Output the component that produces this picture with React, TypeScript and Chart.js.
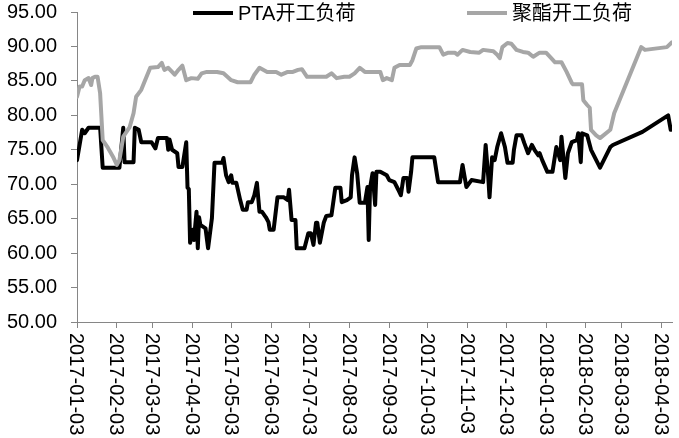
import React, { useEffect, useRef } from "react";
import { Chart, registerables } from "chart.js";

Chart.register(...registerables);

// ---------- data ----------
const seriesNames = ["PTA开工负荷", "聚酯开工负荷"];

const ptaDates = [
  "2017-01-03","2017-01-07","2017-01-09","2017-01-12","2017-01-21","2017-01-23","2017-02-05","2017-02-08",
  "2017-02-09","2017-02-16","2017-02-17","2017-02-20","2017-02-22","2017-03-02","2017-03-05","2017-03-07",
  "2017-03-14","2017-03-15","2017-03-16","2017-03-18","2017-03-22","2017-03-23","2017-03-26","2017-03-29",
  "2017-03-30","2017-03-31","2017-04-01","2017-04-03","2017-04-04","2017-04-06","2017-04-07","2017-04-08",
  "2017-04-09","2017-04-13","2017-04-15","2017-04-18","2017-04-20","2017-04-26","2017-04-27","2017-04-29",
  "2017-05-01","2017-05-03","2017-05-04","2017-05-07","2017-05-10","2017-05-12","2017-05-15","2017-05-16",
  "2017-05-19","2017-05-21","2017-05-23","2017-05-25","2017-05-27","2017-05-30","2017-06-01","2017-06-02",
  "2017-06-05","2017-06-08","2017-06-13","2017-06-16","2017-06-17","2017-06-19","2017-06-22","2017-06-23",
  "2017-06-29","2017-07-02","2017-07-04","2017-07-06","2017-07-08","2017-07-09","2017-07-11","2017-07-14",
  "2017-07-16","2017-07-20","2017-07-23","2017-07-27","2017-07-28","2017-08-01","2017-08-04","2017-08-05",
  "2017-08-07","2017-08-09","2017-08-11","2017-08-15","2017-08-17","2017-08-18","2017-08-19","2017-08-21",
  "2017-08-23","2017-08-24","2017-08-27","2017-09-01","2017-09-03","2017-09-07","2017-09-10","2017-09-12",
  "2017-09-14","2017-09-17","2017-09-18","2017-09-20","2017-09-21","2017-10-08","2017-10-11","2017-10-28",
  "2017-10-30","2017-11-02","2017-11-06","2017-11-15","2017-11-17","2017-11-19","2017-11-20","2017-11-22",
  "2017-11-24","2017-11-26","2017-11-29","2017-12-02","2017-12-04","2017-12-08","2017-12-09","2017-12-11",
  "2017-12-15","2017-12-17","2017-12-20","2017-12-23","2017-12-25","2017-12-28","2017-12-29","2017-12-31",
  "2018-01-04","2018-01-08","2018-01-11","2018-01-14","2018-01-15","2018-01-18","2018-01-20","2018-01-23",
  "2018-01-27","2018-01-28","2018-01-30","2018-01-31","2018-02-04","2018-02-07","2018-02-14","2018-02-22",
  "2018-02-24","2018-03-19","2018-04-08","2018-04-10",
];
const ptaValues = [
  73.5, 77.9, 77.4, 78.2, 78.2, 72.4, 72.4, 78.2,
  73.2, 73.2, 78.2, 77.9, 76.1, 76.1, 75.2, 76.7,
  76.7, 75.0, 76.5, 75.0, 74.5, 72.5, 72.5, 76.1,
  69.5, 69.3, 61.5, 63.4, 61.9, 66.0, 60.7, 65.2,
  64.1, 63.6, 60.7, 65.1, 73.1, 73.1, 73.8, 71.3,
  70.3, 71.3, 70.2, 70.2, 67.7, 66.3, 66.3, 67.4,
  67.4, 68.4, 70.2, 66.0, 66.0, 65.2, 64.5, 63.4,
  63.4, 68.1, 68.1, 67.7, 69.2, 64.8, 64.8, 60.7,
  60.7, 62.9, 62.9, 61.2, 64.4, 64.4, 61.5, 64.4,
  65.4, 65.5, 69.5, 69.5, 67.4, 67.7, 68.1, 71.3,
  73.9, 71.6, 67.3, 67.3, 69.6, 61.9, 69.4, 71.6,
  67.0, 71.8, 71.8, 71.3, 70.6, 70.3, 69.2, 68.4,
  70.9, 70.9, 68.9, 71.8, 73.9, 73.9, 70.3, 70.3,
  72.8, 69.6, 70.6, 70.3, 75.7, 71.1, 68.1, 73.9,
  73.5, 75.4, 77.4, 75.4, 73.1, 73.1, 75.0, 77.1,
  77.1, 76.0, 74.5, 75.7, 75.0, 74.2, 74.5, 73.5,
  71.8, 71.8, 75.4, 73.5, 76.9, 70.9, 74.5, 76.1,
  76.4, 77.4, 73.2, 77.4, 77.1, 75.0, 72.4, 75.4,
  75.7, 77.6, 80.0, 77.9,
];

const pesDates = [
  "2017-01-03","2017-01-05","2017-01-07","2017-01-09","2017-01-12","2017-01-14","2017-01-15","2017-01-17",
  "2017-01-19","2017-01-21","2017-01-23","2017-01-27","2017-01-31","2017-02-03","2017-02-05","2017-02-08",
  "2017-02-13","2017-02-16","2017-02-18","2017-02-22","2017-02-25","2017-03-01","2017-03-07","2017-03-10",
  "2017-03-12","2017-03-15","2017-03-18","2017-03-20","2017-03-23","2017-03-26","2017-03-29","2017-04-02",
  "2017-04-07","2017-04-10","2017-04-14","2017-04-22","2017-04-27","2017-04-30","2017-05-03","2017-05-08",
  "2017-05-18","2017-05-21","2017-05-25","2017-05-31","2017-06-07","2017-06-11","2017-06-16","2017-06-20",
  "2017-06-24","2017-06-27","2017-07-01","2017-07-16","2017-07-20","2017-07-24","2017-07-30","2017-08-03",
  "2017-08-07","2017-08-11","2017-08-15","2017-08-27","2017-08-29","2017-09-01","2017-09-05","2017-09-07",
  "2017-09-11","2017-09-19","2017-09-21","2017-09-24","2017-09-28","2017-10-12","2017-10-15","2017-10-19",
  "2017-10-24","2017-10-26","2017-10-30","2017-11-05","2017-11-12","2017-11-15","2017-11-23","2017-11-26",
  "2017-11-28","2017-11-30","2017-12-04","2017-12-07","2017-12-11","2017-12-16","2017-12-20","2017-12-24",
  "2017-12-29","2018-01-03","2018-01-07","2018-01-10","2018-01-15","2018-01-19","2018-01-23","2018-01-24",
  "2018-01-31","2018-02-01","2018-02-04","2018-02-06","2018-02-07","2018-02-11","2018-02-14","2018-02-22",
  "2018-02-25","2018-03-18","2018-03-21","2018-04-07","2018-04-11",
];
const pesValues = [
  82.7, 84.2, 84.2, 85.1, 85.4, 84.4, 85.4, 85.6,
  85.6, 83.2, 76.4, 75.3, 74.0, 72.8, 73.5, 76.9,
  78.3, 80.3, 82.7, 83.7, 85.1, 86.9, 87.0, 87.6,
  86.6, 86.9, 86.3, 85.9, 86.6, 87.2, 85.1, 85.4,
  85.3, 86.1, 86.3, 86.3, 86.1, 85.6, 85.1, 84.8,
  84.8, 85.9, 86.9, 86.3, 86.3, 85.9, 86.3, 86.3,
  86.6, 86.7, 85.6, 85.6, 86.1, 85.4, 85.6, 85.6,
  86.1, 86.9, 86.3, 86.3, 85.1, 85.4, 85.1, 86.9,
  87.3, 87.3, 88.0, 89.7, 89.9, 89.9, 88.8, 89.1,
  89.1, 88.8, 89.5, 89.2, 89.1, 89.5, 89.3, 88.8,
  88.3, 89.9, 90.5, 90.4, 89.5, 89.2, 89.1, 88.5,
  89.1, 89.1, 88.3, 87.7, 87.7, 86.3, 84.7, 84.5,
  84.5, 82.2, 81.5, 81.1, 77.9, 77.1, 76.7, 77.9,
  80.3, 89.9, 89.5, 89.9, 90.6,
];

const xTickLabels = [
  "2017-01-03","2017-02-03","2017-03-03","2017-04-03","2017-05-03","2017-06-03","2017-07-03","2017-08-03",
  "2017-09-03","2017-10-03","2017-11-03","2017-12-03","2018-01-03","2018-02-03","2018-03-03","2018-04-03",
];
const xStartDate = "2017-01-03";
const xEndDate = "2018-04-11";
const yMin = 50;
const yMax = 95;
const yStep = 5;

// ---------- helpers ----------
const BASE = (() => {
  const [y, m, d] = xStartDate.split("-").map(Number);
  return Date.UTC(y, m - 1, d);
})();
function dayIndex(s: string): number {
  const [y, m, d] = s.split("-").map(Number);
  return Math.round((Date.UTC(y, m - 1, d) - BASE) / 86400000);
}

const FONT_FAMILY = '"Liberation Sans", Arial, "Noto Sans CJK SC", sans-serif';
const AXIS_COLOR = "#868686";
const SERIES_COLORS = ["#000000", "#a6a6a6"];

const xLabelPlugin = {
  id: "xLabels",
  afterDraw(chart: any) {
    const xs = chart.scales.x;
    const ctx = chart.ctx;
    ctx.save();
    ctx.font = `20px ${FONT_FAMILY}`;
    ctx.fillStyle = "#000";
    ctx.textAlign = "left";
    ctx.textBaseline = "middle";
    for (const lab of xTickLabels) {
      const px = xs.getPixelForValue(dayIndex(lab));
      ctx.save();
      ctx.translate(px, xs.top + 11);
      ctx.rotate(Math.PI / 2);
      ctx.fillText(lab, 0, 1);
      ctx.restore();
    }
    ctx.restore();
  },
};

const legendPlugin = {
  id: "customLegend",
  afterDraw(chart: any) {
    const ctx = chart.ctx;
    const starts = [193, 467];
    const y = 13;
    ctx.save();
    ctx.font = `20px ${FONT_FAMILY}`;
    ctx.textAlign = "left";
    ctx.textBaseline = "middle";
    chart.data.datasets.forEach((ds: any, i: number) => {
      const x0 = starts[i];
      ctx.strokeStyle = ds.borderColor;
      ctx.lineWidth = 4;
      ctx.lineCap = "butt";
      ctx.beginPath();
      ctx.moveTo(x0, y);
      ctx.lineTo(x0 + 40, y);
      ctx.stroke();
      ctx.fillStyle = "#000";
      ctx.fillText(ds.label, x0 + 45, y + 1);
    });
    ctx.restore();
  },
};

export default function App() {
  const canvasRef = useRef<HTMLCanvasElement | null>(null);

  useEffect(() => {
    if (!canvasRef.current) return;
    const pta = ptaDates.map((d, i) => ({ x: dayIndex(d), y: ptaValues[i] }));
    const pes = pesDates.map((d, i) => ({ x: dayIndex(d), y: pesValues[i] }));
    const tickDays = xTickLabels.map(dayIndex);

    const chart = new Chart(canvasRef.current, {
      type: "line",
      data: {
        datasets: [
          {
            label: seriesNames[0],
            data: pta,
            borderColor: SERIES_COLORS[0],
            backgroundColor: SERIES_COLORS[0],
            borderWidth: 4,
            pointRadius: 0,
            tension: 0,
            borderJoinStyle: "round",
            borderCapStyle: "round",
            order: 1,
          },
          {
            label: seriesNames[1],
            data: pes,
            borderColor: SERIES_COLORS[1],
            backgroundColor: SERIES_COLORS[1],
            borderWidth: 4,
            pointRadius: 0,
            tension: 0,
            borderJoinStyle: "round",
            borderCapStyle: "round",
            order: 0,
          },
        ],
      },
      options: {
        animation: false,
        responsive: false,
        layout: { padding: { top: 12, right: 7, left: 0, bottom: 0 } },
        plugins: {
          legend: { display: false },
          tooltip: { enabled: false },
        },
        scales: {
          x: {
            type: "linear",
            min: 0,
            max: dayIndex(xEndDate),
            afterBuildTicks: (scale: any) => {
              scale.ticks = tickDays.map((v) => ({ value: v }));
            },
            afterFit: (scale: any) => {
              scale.height = 116;
              scale.paddingLeft = 0;
              scale.paddingRight = 0;
            },
            ticks: { display: false },
            grid: {
              display: true,
              drawOnChartArea: false,
              drawTicks: true,
              tickLength: 6,
              color: AXIS_COLOR,
              lineWidth: 1,
            },
            border: { display: true, color: AXIS_COLOR, width: 1 },
          },
          y: {
            type: "linear",
            min: yMin,
            max: yMax,
            afterFit: (scale: any) => {
              scale.width = 77;
              scale.paddingTop = 0;
              scale.paddingBottom = 0;
            },
            ticks: {
              stepSize: yStep,
              color: "#000",
              padding: 14,
              font: { family: FONT_FAMILY, size: 20, lineHeight: 1 },
              callback: (v: any) => Number(v).toFixed(2),
            },
            grid: {
              display: true,
              drawOnChartArea: false,
              drawTicks: true,
              tickLength: 6,
              color: AXIS_COLOR,
              lineWidth: 1,
            },
            border: { display: true, color: AXIS_COLOR, width: 1 },
          },
        },
      },
      plugins: [xLabelPlugin, legendPlugin],
    } as any);

    return () => chart.destroy();
  }, []);

  return (
    <div style={{ position: "absolute", left: 0, top: 0, width: 679, height: 438, background: "#fff" }}>
      <canvas ref={canvasRef} width={679} height={438} style={{ display: "block" }} />
    </div>
  );
}
